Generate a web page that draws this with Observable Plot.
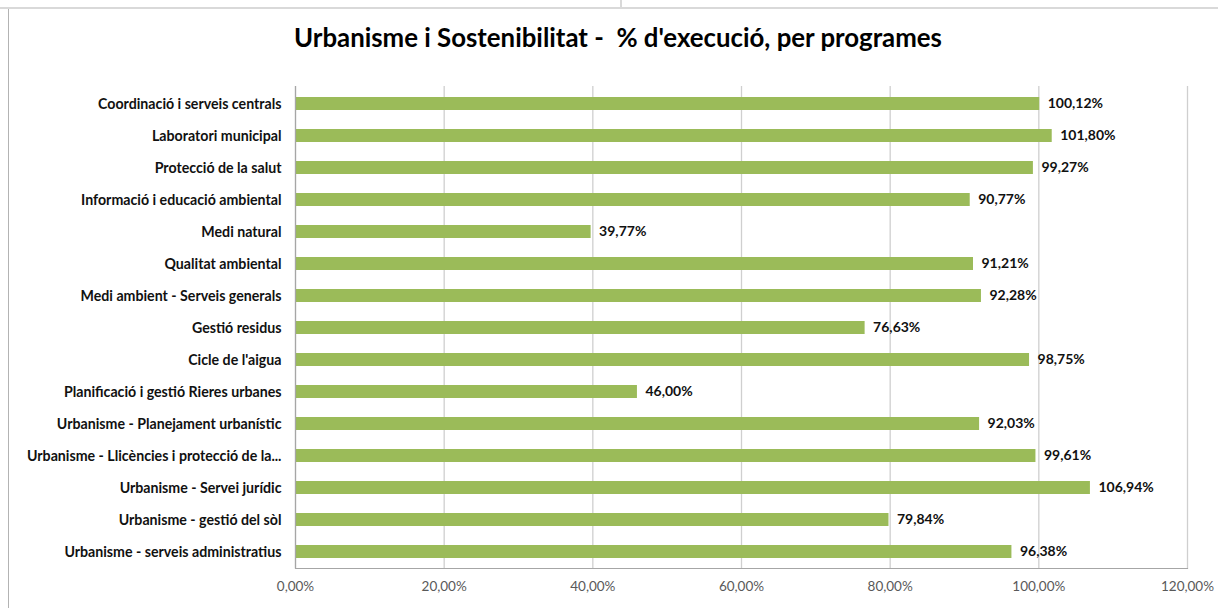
<!DOCTYPE html>
<html>
<head>
<meta charset="utf-8">
<script src="https://cdn.jsdelivr.net/npm/d3@7"></script>
<script src="https://cdn.jsdelivr.net/npm/@observablehq/plot@0.6"></script>
<style>
  html, body { margin: 0; padding: 0; background: #fff; }
  #frame { position: relative; width: 1218px; height: 608px; overflow: hidden; background: #fff; }
  #topband { position: absolute; left: 0; top: 7px; width: 1218px; height: 2px; background: #d9d9d9; z-index: 2; }
  #topsep { position: absolute; left: 620px; top: 0; width: 2px; height: 7px; background: #d9d9d9; z-index: 2; }
  #leftline { position: absolute; left: 8px; top: 9px; width: 1px; height: 599px; background: #b3b3b3; z-index: 2; }
  #title { position: absolute; left: 0; top: 22px; width: 1236px; text-align: center;
           font-family: Lato, "Open Sans", sans-serif; font-weight: bold; font-size: 25.8px; color: #000; }
  #chart { position: absolute; left: 0; top: 70px; }
  #chart svg { background: transparent !important; }
</style>
</head>
<body>
<div id="frame">
  <div id="topband"></div>
  <div id="topsep"></div>
  <div id="leftline"></div>
  <div id="title">Urbanisme i Sostenibilitat -&nbsp; % d'execució, per programes</div>
  <div id="chart"></div>
</div>
<script>
const programes = [
  "Coordinació i serveis centrals",
  "Laboratori municipal",
  "Protecció de la salut",
  "Informació i educació ambiental",
  "Medi natural",
  "Qualitat ambiental",
  "Medi ambient - Serveis generals",
  "Gestió residus",
  "Cicle de l'aigua",
  "Planificació i gestió Rieres urbanes",
  "Urbanisme - Planejament urbanístic",
  "Urbanisme - Llicències i protecció de la...",
  "Urbanisme - Servei jurídic",
  "Urbanisme - gestió del sòl",
  "Urbanisme - serveis administratius"
];
const execucio = [1.0012, 1.0180, 0.9927, 0.9077, 0.3977, 0.9121, 0.9228, 0.7663, 0.9875, 0.4600, 0.9203, 0.9961, 1.0694, 0.7984, 0.9638];
const xTicks = [0, 0.2, 0.4, 0.6, 0.8, 1.0, 1.2];

const data = programes.map((p, i) => ({programa: p, valor: execucio[i]}));
const fmt = v => (v * 100).toFixed(2).replace(".", ",") + "%";

const chart = Plot.plot({
  width: 1218,
  height: 538,
  marginTop: 16,
  marginBottom: 40,
  marginLeft: 295,
  marginRight: 31,
  style: {fontFamily: "Lato, 'Open Sans', sans-serif", background: "transparent"},
  x: {domain: [0, 1.2], ticks: xTicks, tickFormat: fmt, label: null},
  y: {domain: programes, paddingInner: 0.6, paddingOuter: 0.3, label: null},
  marks: [
    Plot.gridX(xTicks, {stroke: "#cfcfcf", strokeOpacity: 1, strokeWidth: 1.3}),
    Plot.barX(data, {x: "valor", y: "programa", fill: "#9bbb59"}),
    Plot.ruleX([0], {stroke: "#a6a6a6", strokeWidth: 1.2}),
    Plot.frame({anchor: "bottom", stroke: "#a6a6a6", strokeWidth: 1.2}),
    Plot.text(data, {x: "valor", y: "programa", text: d => fmt(d.valor), dx: 8, textAnchor: "start",
      fontWeight: "bold", fontSize: 14, fill: "#111"}),
    Plot.axisX({ticks: xTicks, tickFormat: fmt, tickSize: 0, tickPadding: 13, fontSize: 13.5, fill: "#595959", label: null}),
    Plot.axisY({tickSize: 0, tickPadding: 14, fontSize: 14.2, fontWeight: "bold", fill: "#111", label: null})
  ]
});
document.getElementById("chart").appendChild(chart);
</script>
</body>
</html>
